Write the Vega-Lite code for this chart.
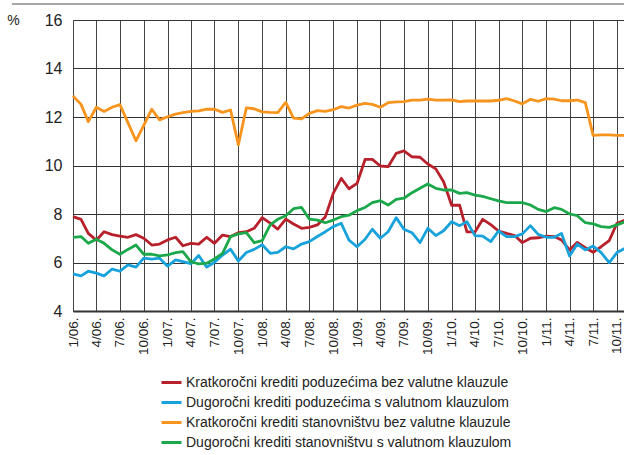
{
  "$schema": "https://vega.github.io/schema/vega-lite/v6.json",
  "autosize": {"type": "none"},
  "width": 552,
  "height": 291,
  "padding": {"left": 73, "top": 20, "right": 0, "bottom": 144},
  "background": "white",
  "config": {
    "view": {"stroke": null},
    "font": "Liberation Sans, Arial, sans-serif"
  },
  "datasets": {
    "serije": [
      {"k": "kp", "naziv": "Kratkoročni krediti poduzećima bez valutne klauzule"},
      {"k": "dp", "naziv": "Dugoročni krediti poduzećima s valutnom klauzulom"},
      {"k": "ks", "naziv": "Kratkoročni krediti stanovništvu bez valutne klauzule"},
      {"k": "ds", "naziv": "Dugoročni krediti stanovništvu s valutnom klauzulom"}
    ],
    "stope": [
      {"datum": "2006-01-01", "kp": 7.89, "dp": 5.53, "ks": 12.87, "ds": 7.04},
      {"datum": "2006-02-01", "kp": 7.78, "dp": 5.45, "ks": 12.52, "ds": 7.07},
      {"datum": "2006-03-01", "kp": 7.20, "dp": 5.64, "ks": 11.81, "ds": 6.79},
      {"datum": "2006-04-01", "kp": 6.92, "dp": 5.56, "ks": 12.40, "ds": 6.96},
      {"datum": "2006-05-01", "kp": 7.27, "dp": 5.45, "ks": 12.23, "ds": 6.79},
      {"datum": "2006-06-01", "kp": 7.15, "dp": 5.73, "ks": 12.40, "ds": 6.52},
      {"datum": "2006-07-01", "kp": 7.09, "dp": 5.64, "ks": 12.51, "ds": 6.34},
      {"datum": "2006-08-01", "kp": 7.04, "dp": 5.90, "ks": 11.77, "ds": 6.54},
      {"datum": "2006-09-01", "kp": 7.15, "dp": 5.81, "ks": 11.02, "ds": 6.72},
      {"datum": "2006-10-01", "kp": 7.00, "dp": 6.18, "ks": 11.65, "ds": 6.34},
      {"datum": "2006-11-01", "kp": 6.72, "dp": 6.14, "ks": 12.32, "ds": 6.34},
      {"datum": "2006-12-01", "kp": 6.76, "dp": 6.18, "ks": 11.88, "ds": 6.27},
      {"datum": "2007-01-01", "kp": 6.93, "dp": 5.85, "ks": 12.01, "ds": 6.31},
      {"datum": "2007-02-01", "kp": 7.04, "dp": 6.11, "ks": 12.12, "ds": 6.41},
      {"datum": "2007-03-01", "kp": 6.69, "dp": 6.04, "ks": 12.18, "ds": 6.45},
      {"datum": "2007-04-01", "kp": 6.79, "dp": 5.95, "ks": 12.23, "ds": 6.03},
      {"datum": "2007-05-01", "kp": 6.76, "dp": 6.29, "ks": 12.25, "ds": 5.94},
      {"datum": "2007-06-01", "kp": 7.04, "dp": 5.81, "ks": 12.32, "ds": 5.97},
      {"datum": "2007-07-01", "kp": 6.79, "dp": 6.01, "ks": 12.32, "ds": 6.15},
      {"datum": "2007-08-01", "kp": 7.13, "dp": 6.30, "ks": 12.19, "ds": 6.38},
      {"datum": "2007-09-01", "kp": 7.07, "dp": 6.55, "ks": 12.29, "ds": 7.07},
      {"datum": "2007-10-01", "kp": 7.23, "dp": 6.06, "ks": 10.85, "ds": 7.18},
      {"datum": "2007-11-01", "kp": 7.27, "dp": 6.41, "ks": 12.38, "ds": 7.23},
      {"datum": "2007-12-01", "kp": 7.41, "dp": 6.54, "ks": 12.34, "ds": 6.82},
      {"datum": "2008-01-01", "kp": 7.85, "dp": 6.73, "ks": 12.21, "ds": 6.90},
      {"datum": "2008-02-01", "kp": 7.62, "dp": 6.38, "ks": 12.19, "ds": 7.55},
      {"datum": "2008-03-01", "kp": 7.38, "dp": 6.42, "ks": 12.18, "ds": 7.78},
      {"datum": "2008-04-01", "kp": 7.79, "dp": 6.65, "ks": 12.60, "ds": 7.93},
      {"datum": "2008-05-01", "kp": 7.59, "dp": 6.56, "ks": 11.95, "ds": 8.22},
      {"datum": "2008-06-01", "kp": 7.41, "dp": 6.76, "ks": 11.92, "ds": 8.27},
      {"datum": "2008-07-01", "kp": 7.45, "dp": 6.86, "ks": 12.15, "ds": 7.79},
      {"datum": "2008-08-01", "kp": 7.55, "dp": 7.07, "ks": 12.26, "ds": 7.75},
      {"datum": "2008-09-01", "kp": 7.89, "dp": 7.27, "ks": 12.23, "ds": 7.64},
      {"datum": "2008-10-01", "kp": 8.85, "dp": 7.48, "ks": 12.30, "ds": 7.75},
      {"datum": "2008-11-01", "kp": 9.47, "dp": 7.62, "ks": 12.43, "ds": 7.89},
      {"datum": "2008-12-01", "kp": 9.04, "dp": 6.92, "ks": 12.37, "ds": 7.95},
      {"datum": "2009-01-01", "kp": 9.26, "dp": 6.65, "ks": 12.49, "ds": 8.14},
      {"datum": "2009-02-01", "kp": 10.25, "dp": 6.96, "ks": 12.56, "ds": 8.27},
      {"datum": "2009-03-01", "kp": 10.25, "dp": 7.37, "ks": 12.52, "ds": 8.47},
      {"datum": "2009-04-01", "kp": 9.98, "dp": 7.00, "ks": 12.40, "ds": 8.55},
      {"datum": "2009-05-01", "kp": 9.95, "dp": 7.27, "ks": 12.59, "ds": 8.37},
      {"datum": "2009-06-01", "kp": 10.50, "dp": 7.85, "ks": 12.62, "ds": 8.60},
      {"datum": "2009-07-01", "kp": 10.60, "dp": 7.37, "ks": 12.63, "ds": 8.65},
      {"datum": "2009-08-01", "kp": 10.36, "dp": 7.23, "ks": 12.70, "ds": 8.88},
      {"datum": "2009-09-01", "kp": 10.34, "dp": 6.82, "ks": 12.70, "ds": 9.06},
      {"datum": "2009-10-01", "kp": 10.06, "dp": 7.41, "ks": 12.74, "ds": 9.24},
      {"datum": "2009-11-01", "kp": 9.86, "dp": 7.11, "ks": 12.70, "ds": 9.06},
      {"datum": "2009-12-01", "kp": 9.33, "dp": 7.31, "ks": 12.70, "ds": 8.99},
      {"datum": "2010-01-01", "kp": 8.36, "dp": 7.68, "ks": 12.71, "ds": 8.99},
      {"datum": "2010-02-01", "kp": 8.36, "dp": 7.52, "ks": 12.63, "ds": 8.85},
      {"datum": "2010-03-01", "kp": 7.26, "dp": 7.68, "ks": 12.66, "ds": 8.88},
      {"datum": "2010-04-01", "kp": 7.26, "dp": 7.11, "ks": 12.66, "ds": 8.78},
      {"datum": "2010-05-01", "kp": 7.78, "dp": 7.09, "ks": 12.66, "ds": 8.73},
      {"datum": "2010-06-01", "kp": 7.56, "dp": 6.86, "ks": 12.66, "ds": 8.63},
      {"datum": "2010-07-01", "kp": 7.30, "dp": 7.30, "ks": 12.69, "ds": 8.54},
      {"datum": "2010-08-01", "kp": 7.20, "dp": 7.07, "ks": 12.76, "ds": 8.47},
      {"datum": "2010-09-01", "kp": 7.11, "dp": 7.07, "ks": 12.66, "ds": 8.47},
      {"datum": "2010-10-01", "kp": 6.82, "dp": 7.18, "ks": 12.54, "ds": 8.47},
      {"datum": "2010-11-01", "kp": 7.00, "dp": 7.52, "ks": 12.73, "ds": 8.37},
      {"datum": "2010-12-01", "kp": 7.02, "dp": 7.16, "ks": 12.65, "ds": 8.19},
      {"datum": "2011-01-01", "kp": 7.09, "dp": 7.04, "ks": 12.76, "ds": 8.10},
      {"datum": "2011-02-01", "kp": 7.07, "dp": 7.04, "ks": 12.74, "ds": 8.26},
      {"datum": "2011-03-01", "kp": 6.93, "dp": 7.20, "ks": 12.67, "ds": 8.19},
      {"datum": "2011-04-01", "kp": 6.52, "dp": 6.27, "ks": 12.67, "ds": 8.00},
      {"datum": "2011-05-01", "kp": 6.83, "dp": 6.76, "ks": 12.70, "ds": 7.93},
      {"datum": "2011-06-01", "kp": 6.61, "dp": 6.52, "ks": 12.59, "ds": 7.64},
      {"datum": "2011-07-01", "kp": 6.42, "dp": 6.68, "ks": 11.24, "ds": 7.59},
      {"datum": "2011-08-01", "kp": 6.65, "dp": 6.41, "ks": 11.26, "ds": 7.48},
      {"datum": "2011-09-01", "kp": 6.90, "dp": 5.99, "ks": 11.26, "ds": 7.45},
      {"datum": "2011-10-01", "kp": 7.62, "dp": 6.41, "ks": 11.24, "ds": 7.55},
      {"datum": "2011-11-01", "kp": 7.75, "dp": 6.58, "ks": 11.24, "ds": 7.68}
    ]
  },
  "layer": [
    {
      "data": {"name": "stope"},
      "transform": [
        {"fold": ["kp", "dp", "ks", "ds"], "as": ["k", "stopa"]},
        {"lookup": "k", "from": {"data": {"name": "serije"}, "key": "k", "fields": ["naziv"]}}
      ],
      "mark": {"type": "line", "strokeWidth": 2.8, "strokeJoin": "round"},
      "encoding": {
        "x": {
          "field": "datum",
          "type": "temporal",
          "scale": {"type": "utc", "domain": ["2006-01-01", "2011-11-01"], "nice": false},
          "axis": {
            "title": null,
            "format": "%-m/%y.",
            "tickCount": {"interval": "month", "step": 3},
            "labelAngle": 270,
            "labelFontSize": 13.5,
            "labelColor": "#222",
            "labelPadding": 6,
            "ticks": false,
            "domain": true,
            "domainColor": "#333",
            "domainWidth": 2,
            "grid": true,
            "gridColor": "#444",
            "gridWidth": 1,
            "gridOpacity": 1,
            "labelOverlap": false,
            "labelFlush": false
          }
        },
        "y": {
          "field": "stopa",
          "type": "quantitative",
          "scale": {"domain": [4, 16], "nice": false, "zero": false},
          "axis": {
            "title": "%",
            "titleAngle": 0,
            "titleX": -60,
            "titleY": 0,
            "titleAlign": "center",
            "titleBaseline": "middle",
            "titleFontSize": 14,
            "titleFontWeight": "normal",
            "titleColor": "#222",
            "values": [4, 6, 8, 10, 12, 14, 16],
            "labelFontSize": 16,
            "labelColor": "#222",
            "labelPadding": 11,
            "ticks": false,
            "domain": false,
            "grid": true,
            "gridColor": "#333",
            "gridWidth": 1,
            "gridOpacity": 1
          }
        },
        "color": {
          "field": "naziv",
          "type": "nominal",
          "scale": {
            "domain": [
              "Kratkoročni krediti poduzećima bez valutne klauzule",
              "Dugoročni krediti poduzećima s valutnom klauzulom",
              "Kratkoročni krediti stanovništvu bez valutne klauzule",
              "Dugoročni krediti stanovništvu s valutnom klauzulom"
            ],
            "range": ["#B8202B", "#17A2DC", "#F7941D", "#1BA84A"]
          },
          "legend": {
            "title": null,
            "orient": "none",
            "legendX": 87,
            "legendY": 351,
            "direction": "vertical",
            "symbolType": "stroke",
            "symbolSize": 400,
            "symbolStrokeWidth": 3,
            "labelFontSize": 14,
            "labelColor": "#222",
            "labelOffset": 3,
            "rowPadding": 1,
            "labelLimit": 500
          }
        }
      }
    },
    {
      "data": {"values": [{"od": "2005-05-10", "do": "2011-12-31", "vrh": 16.66}]},
      "mark": {"type": "rule", "color": "#8a8a8a", "strokeWidth": 1.5},
      "encoding": {
        "y": {"field": "vrh", "type": "quantitative"},
        "x": {"field": "od", "type": "temporal"},
        "x2": {"field": "do"}
      }
    }
  ]
}
